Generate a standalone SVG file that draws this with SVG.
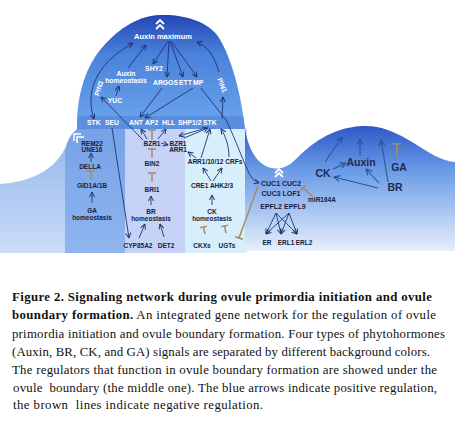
<svg xmlns="http://www.w3.org/2000/svg" width="467" height="439" viewBox="0 0 467 439">
<defs>
<linearGradient id="gDome" x1="0" y1="0" x2="0" y2="1"><stop offset="0" stop-color="#2446b4"/><stop offset="0.35" stop-color="#4a82dc"/><stop offset="1" stop-color="#6ea6ee"/></linearGradient>
<linearGradient id="gRight" x1="0" y1="0" x2="0" y2="1"><stop offset="0" stop-color="#2f58c8"/><stop offset="0.35" stop-color="#6a9be6"/><stop offset="1" stop-color="#eaf1fc"/></linearGradient>
<linearGradient id="gLeft" x1="0" y1="0" x2="0" y2="1"><stop offset="0" stop-color="#9cbdf0"/><stop offset="1" stop-color="#cadcf7"/></linearGradient>
<linearGradient id="gGA" x1="0" y1="0" x2="0" y2="1"><stop offset="0" stop-color="#76a2e8"/><stop offset="1" stop-color="#8fb5ee"/></linearGradient>
<marker id="a" viewBox="0 0 6 6" refX="5.5" refY="3" markerWidth="6" markerHeight="6" markerUnits="userSpaceOnUse" orient="auto"><path d="M0.5,0.5 L5.5,3 L0.5,5.5" fill="none" stroke="#1c3672" stroke-width="1"/></marker>
<marker id="ab" viewBox="0 0 6 6" refX="0.5" refY="3" markerWidth="6" markerHeight="6" markerUnits="userSpaceOnUse" orient="auto"><path d="M5.5,0.5 L0.5,3 L5.5,5.5" fill="none" stroke="#1c3672" stroke-width="1"/></marker>
<marker id="ar" viewBox="0 0 6 6" refX="5.5" refY="3" markerWidth="7" markerHeight="7" markerUnits="userSpaceOnUse" orient="auto"><path d="M0.5,0.5 L5.5,3 L0.5,5.5" fill="none" stroke="#2a5696" stroke-width="1.1"/></marker>
<marker id="t" viewBox="0 0 2 8" refX="1" refY="4" markerWidth="2" markerHeight="8" markerUnits="userSpaceOnUse" orient="auto"><path d="M1,0 V8" stroke="#a08c6c" stroke-width="1.6"/></marker>
</defs>
<style>
.w{fill:#fff;font-family:"Liberation Sans",Arial,sans-serif;font-weight:bold;font-size:6.8px}
.d{fill:#16213f;font-family:"Liberation Sans",Arial,sans-serif;font-weight:bold;font-size:6.5px}
.c{fill:#16213f;font-family:"Liberation Sans",Arial,sans-serif;font-weight:bold;font-size:7px}
.big{fill:#1c2b4f;font-family:"Liberation Sans",Arial,sans-serif;font-weight:bold;font-size:10.5px}
.cap{fill:#111;font-family:"Liberation Serif","Times New Roman",serif;font-size:12.8px}
.b{font-weight:bold}
.m{text-anchor:middle}
.ln{fill:none;stroke:#1c3672;stroke-width:0.9;marker-end:url(#a)}
.lr{fill:none;stroke:#2a5696;stroke-width:1.1;marker-end:url(#ar)}
.inh{fill:none;stroke:#a08c6c;stroke-width:1.5;marker-end:url(#t)}
.chev{fill:none;stroke:#fff;stroke-width:1.8}
</style>
<rect width="467" height="439" fill="#fff"/>
<g id="background">
<path d="M0,184 C30,182 55,170 65,148 L65,253 L0,253 Z" fill="url(#gLeft)"/>
<path d="M77,129 L125,129 L125,253 L65,253 L65,150 C67,140 72,133 77,129 Z" fill="url(#gGA)"/>
<rect x="125" y="129" width="60" height="124" fill="#c6d2f5"/>
<rect x="185" y="129" width="62" height="124" fill="#d7eefb"/>
<path d="M245,127 C247,145 255,162 268,167 C276,170 286,169 295,160 C310,145 330,128 362,126 C395,124 420,150 440,158 C447,161 452,162 455,162 L455,251 L247,251 L247,253 L245,253 Z" fill="url(#gRight)"/>
<path d="M77,129 C76,100 84,70 100,50 C115,32 135,16 160,15 C185,14 207,22 217,35 C228,50 240,85 245,129 Z" fill="url(#gDome)"/>
<path d="M78,116 L243,116 L245,129 L77,129 Z" fill="#5a8ee0"/>
<path class="chev" d="M156,24 L160,20 L164,24 M156,29 L160,25 L164,29"/>
<path class="chev" d="M275,173 L279,169 L283,173 M275,177 L279,173 L283,177"/>
<path fill="none" stroke="#fff" stroke-width="1.5" d="M74,141 L74,134 L81,134 M77,143 L77,137 L84,137"/>
</g>
<g id="connectors">
<path class="ln" d="M168,41 L153,64"/>
<path class="ln" d="M169,41 L167,77"/>
<path class="ln" d="M170,41 L183,77"/>
<path class="ln" d="M171,41 L197,77"/>
<path class="ln" d="M128,68 L146,45"/>
<path class="ln" d="M116,96 L119,86"/>
<path class="ln" style="marker-start:url(#ab)" d="M94,119 C86,95 92,66 133,43"/>
<path class="ln" d="M219,72 C214,55 207,46 197,42"/>
<path class="ln" d="M222,119 L223,97"/>
<path class="ln" d="M201,88 L226,120 C236,140 244,164 250,175 C253,180 256,182 259,183"/>
<path class="ln" d="M162,88 L140,117"/>
<path class="ln" d="M193,88 L145,118"/>
<path class="ln" d="M143,140 L101,97"/>
<path class="ln" d="M112,128 L129,238"/>
<path class="ln" d="M147,139 L141,129"/>
<path class="ln" d="M158,139 L166,129"/>
<path class="inh" d="M152,140 L152,130"/>
<path class="ln" d="M161,143 L168,145"/>
<path class="ln" d="M184,138 L208,128"/>
<path class="ln" d="M206,128 L179,136"/>
<path class="ln" d="M196,158 L188,152"/>
<path class="ln" d="M201,158 L210,129"/>
<path class="ln" d="M229,157 C229,145 225,135 221,129"/>
<path class="ln" d="M211,181 L203,168"/>
<path class="ln" d="M213,181 L222,168"/>
<path class="ln" d="M212,205 L212,195"/>
<path class="ln" d="M91,162 L91,153"/>
<path class="inh" d="M91,180 L91,171"/>
<path class="ln" d="M92,203 L92,192"/>
<path class="inh" d="M152,158 L152,149"/>
<path class="inh" d="M152,182 L152,173"/>
<path class="ln" d="M151,205 L151,196"/>
<path class="ln" d="M139,238 L145,224"/>
<path class="ln" d="M164,237 L160,224"/>
<path class="inh" d="M205,234 L203.5,227"/>
<path class="inh" d="M226,233 L224.5,226"/>
<path class="inh" d="M258,186 L239,238"/>
<path class="inh" d="M313,197 L303,188"/>
<path class="ln" d="M276,213 L266,234"/>
<path class="ln" d="M276,213 L281,234"/>
<path class="ln" d="M276,213 L297,234"/>
<path class="ln" d="M289,213 L266,234"/>
<path class="ln" d="M289,213 L281,234"/>
<path class="ln" d="M289,213 L297,234"/>
<path class="lr" d="M333,169 L346,163"/>
<path class="lr" d="M325,162 L342,137"/>
<path class="lr" d="M360,156 L360,139"/>
<path class="lr" d="M388,182 L381,140"/>
<path class="lr" d="M379,183 L366,169"/>
<path class="lr" d="M378,188 L334,177"/>
<path class="inh" style="stroke-width:2;stroke:#9a8770" d="M397,158 L397,144"/>
</g>
<g id="dome-labels">
<text class="w m" x="163" y="39" style="font-size:7.5px">Auxin maximum</text>
<text class="w m" x="154" y="71">SHY2</text>
<text class="w m" x="126" y="76">Auxin</text>
<text class="w m" x="126" y="83">homeostasis</text>
<text class="w m" x="115" y="103">YUC</text>
<text class="w" x="153" y="85">ARGOS</text>
<text class="w" x="179" y="85">ETT</text>
<text class="w" x="193" y="85">MP</text>
<text class="w m" transform="translate(101,89) rotate(-72)">PIN3</text>
<text class="w m" transform="translate(220,86) rotate(68)">PIN1</text>
</g>
<g id="band-labels">
<text class="w" x="87" y="125">STK</text>
<text class="w" x="105" y="125">SEU</text>
<text class="w" x="129" y="125">ANT</text>
<text class="w" x="145" y="125">AP2</text>
<text class="w" x="162" y="125">HLL</text>
<text class="w" x="178" y="125">SHP1/2</text>
<text class="w" x="203" y="125">STK</text>
</g>
<g id="GA-node">
<text class="d m" x="92" y="145.5">REM22</text>
<text class="d m" x="92" y="151.5">UNE16</text>
<text class="d m" x="90" y="169">DELLA</text>
<text class="d m" x="92" y="187.5">GID1A/1B</text>
<text class="d m" x="92" y="213">GA</text>
<text class="d m" x="92" y="220">homeostasis</text>
</g>
<g id="BR-node">
<text class="d m" x="152" y="146">BZR1</text>
<text class="d m" x="178" y="146">BZR1</text>
<text class="d m" x="178" y="152">ARR1</text>
<text class="d m" x="152" y="165.5">BIN2</text>
<text class="d m" x="152" y="191.5">BRI1</text>
<text class="d m" x="151" y="213.5">BR</text>
<text class="d m" x="151" y="220.5">homeostasis</text>
<text class="d m" x="138" y="248">CYP85A2</text>
<text class="d m" x="166" y="248">DET2</text>
</g>
<g id="CK-node">
<text class="d m" x="215" y="164">ARR1/10/12 CRFs</text>
<text class="d m" x="212" y="188">CRE1 AHK2/3</text>
<text class="d m" x="212" y="214">CK</text>
<text class="d m" x="212" y="220.5">homeostasis</text>
<text class="d m" x="202" y="248">CKXs</text>
<text class="d m" x="227" y="248">UGTs</text>
</g>
<g id="boundary-node">
<text class="c m" x="281" y="186">CUC1 CUC2</text>
<text class="c m" x="281" y="196">CUC3 LOF1</text>
<text class="c m" x="283" y="209">EPFL2 EPFL9</text>
<text class="d m" x="267" y="245">ER</text>
<text class="d m" x="286" y="245">ERL1</text>
<text class="d m" x="304" y="245">ERL2</text>
<text class="d m" x="322" y="202">miR164A</text>
</g>
<g id="hormones-node">
<text class="big m" x="323" y="177">CK</text>
<text class="big m" x="361" y="166">Auxin</text>
<text class="big m" x="399" y="171">GA</text>
<text class="big m" x="395" y="191">BR</text>
</g>
<g id="caption">
<text class="cap b" x="12" y="301" textLength="420">Figure 2. Signaling network during ovule primordia initiation and ovule</text>
<text class="cap" x="12" y="319" textLength="424"><tspan class="b">boundary formation.</tspan> An integrated gene network for the regulation of ovule</text>
<text class="cap" x="12" y="338" textLength="433">primordia initiation and ovule boundary formation. Four types of phytohormones</text>
<text class="cap" x="12" y="356" textLength="418">(Auxin, BR, CK, and GA) signals are separated by different background colors.</text>
<text class="cap" x="12" y="374" textLength="425">The regulators that function in ovule boundary formation are showed under the</text>
<text class="cap" x="13" y="392" textLength="424" xml:space="preserve">ovule  boundary (the middle one). The blue arrows indicate positive regulation,</text>
<text class="cap" x="13" y="409" textLength="250" xml:space="preserve">the brown  lines indicate negative regulation.</text>
</g>
</svg>
